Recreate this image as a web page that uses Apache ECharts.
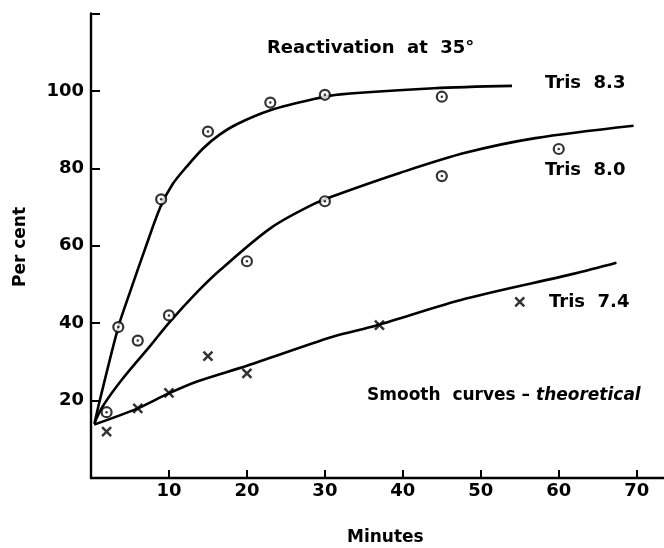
<!DOCTYPE html>
<html>
<head>
<meta charset="utf-8">
<script src="https://cdn.jsdelivr.net/npm/echarts@6/dist/echarts.min.js"></script>
<style>
html,body{margin:0;padding:0;background:#fff;}
#c{width:664px;height:548px;}
</style>
</head>
<body>
<div id="c"></div>
<script>
// ---- data ----
var xTicks = [10, 20, 30, 40, 50, 60, 70];
var yTicks = [20, 40, 60, 80, 100];
var yTickMarks = [20, 40, 60, 80, 100, 120];

// measured points
var tris83Points = [[3.5, 39], [9, 72], [15, 89.5], [23, 97], [30, 99], [45, 98.5]];
var tris80Points = [[2, 17], [6, 35.5], [10, 42], [20, 56], [30, 71.5], [45, 78], [60, 85]];
var tris74Points = [[2, 12], [6, 18], [10, 22], [15, 31.5], [20, 27], [37, 39.5], [55, 45.5]];

// theoretical curves
var tris83Curve = [[0.5, 14.5], [1, 19], [3.5, 39], [5, 48], [6.9, 59], [8.9, 70], [10.5, 76], [12.3, 80.5], [14.4, 85.2], [16.5, 88.7], [18.7, 91.4], [23, 95], [28.6, 97.9], [32, 99.1], [44, 100.7], [54, 101.3]];
var tris80Curve = [[0.4, 14], [1.5, 18.5], [4, 25.5], [7.7, 34.4], [10, 40.1], [13.7, 48.2], [16.6, 53.8], [23, 64.5], [28.6, 70.8], [32, 73.5], [39.6, 78.8], [48, 84], [57, 87.8], [69.6, 91]];
var tris74Curve = [[0.4, 13.8], [6, 18], [9.9, 21.8], [13.7, 25], [20, 29], [31, 36.5], [36.6, 39.4], [48, 46.3], [62, 52.8], [67.4, 55.6]];

var FONT = 'DejaVu Sans';
var chart = echarts.init(document.getElementById('c'), null, {renderer: 'canvas'});

function curve(data) {
  return {type: 'line', data: data, smooth: 0.3, showSymbol: false, silent: true,
          lineStyle: {color: '#000', width: 2.6}, z: 2};
}
function circles(data) {
  return [
    {type: 'scatter', data: data, symbol: 'circle', symbolSize: 10,
     itemStyle: {color: '#fff', borderColor: '#000', borderWidth: 2.2}, z: 3},
    {type: 'scatter', data: data, symbol: 'circle', symbolSize: 2.5,
     itemStyle: {color: '#000'}, z: 4}
  ];
}
function crosses(data) {
  return {type: 'scatter', data: data, symbol: 'path://M0,0L10,10M10,0L0,10', symbolSize: 9,
          itemStyle: {color: 'none', borderColor: '#000', borderWidth: 2.5}, z: 3};
}

var option = {
  backgroundColor: '#fff',
  animation: false,
  grid: {left: 91, right: 0, top: 13.5, bottom: 70},
  xAxis: {
    type: 'value', min: 0, max: 73.5, interval: 10,
    axisLine: {lineStyle: {color: '#000', width: 2.4}},
    axisTick: {inside: true, length: 8, lineStyle: {color: '#000', width: 2}, customValues: xTicks},
    axisLabel: {color: '#000', fontFamily: FONT, fontWeight: 'bold', fontSize: 18, margin: 4, customValues: xTicks},
    splitLine: {show: false}
  },
  yAxis: {
    type: 'value', min: 0, max: 120, interval: 20,
    axisLine: {show: true, lineStyle: {color: '#000', width: 2.4}},
    axisTick: {show: true, inside: true, length: 9, lineStyle: {color: '#000', width: 2}, customValues: yTickMarks},
    axisLabel: {color: '#000', fontFamily: FONT, fontWeight: 'bold', fontSize: 18, margin: 7, customValues: yTicks},
    splitLine: {show: false}
  },
  series: [
    curve(tris83Curve), curve(tris80Curve), curve(tris74Curve)
  ].concat(circles(tris83Points)).concat(circles(tris80Points)).concat([crosses(tris74Points)]),
  graphic: [
    {type: 'text', left: 267, top: 39, style: {text: 'Reactivation  at  35°', font: 'bold 18px ' + FONT, fill: '#000'}},
    {type: 'text', left: 545, top: 74, style: {text: 'Tris  8.3', font: 'bold 18px ' + FONT, fill: '#000'}},
    {type: 'text', left: 545, top: 161, style: {text: 'Tris  8.0', font: 'bold 18px ' + FONT, fill: '#000'}},
    {type: 'text', left: 549, top: 293, style: {text: 'Tris  7.4', font: 'bold 18px ' + FONT, fill: '#000'}},
    {type: 'text', left: 367, top: 387, style: {
      rich: {a: {font: 'bold 17px ' + FONT, fill: '#000'}, b: {font: 'italic bold 17px ' + FONT, fill: '#000'}},
      text: '{a|Smooth  curves – }{b|theoretical}'}},
    {type: 'text', left: 347, top: 529, style: {text: 'Minutes', font: 'bold 17px ' + FONT, fill: '#000'}},
    {type: 'text', x: 21, y: 247, rotation: Math.PI / 2, style: {text: 'Per cent', font: 'bold 17px ' + FONT, fill: '#000', align: 'center', verticalAlign: 'middle'}}
  ]
};
chart.setOption(option);
</script>
</body>
</html>
